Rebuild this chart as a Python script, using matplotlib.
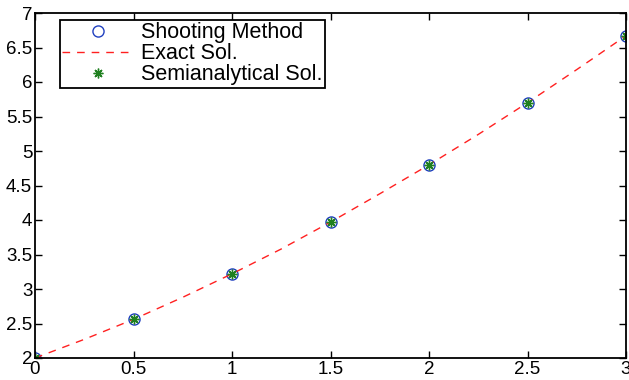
import matplotlib
matplotlib.use("Agg")
import matplotlib.pyplot as plt

x_pts = [0, 0.5, 1.0, 1.5, 2.0, 2.5, 3.0]
shooting = [2.00, 2.56, 3.22, 3.97, 4.80, 5.70, 6.67]
semi = [2.00, 2.56, 3.22, 3.97, 4.80, 5.70, 6.67]
x_exact = [0, 0.25, 0.5, 0.75, 1.0, 1.25, 1.5, 1.75, 2.0, 2.25, 2.5, 2.75, 3.0]
y_exact = [2.00, 2.27, 2.56, 2.88, 3.22, 3.58, 3.97, 4.38, 4.80, 5.24, 5.70, 6.18, 6.67]
xticks = [0, 0.5, 1, 1.5, 2, 2.5, 3]
xticklabels = ["0", "0.5", "1", "1.5", "2", "2.5", "3"]
yticks = [2, 2.5, 3, 3.5, 4, 4.5, 5, 5.5, 6, 6.5, 7]
yticklabels = ["2", "2.5", "3", "3.5", "4", "4.5", "5", "5.5", "6", "6.5", "7"]

plt.rcParams['font.family'] = ['Liberation Sans', 'DejaVu Sans']
fig = plt.figure(figsize=(6.29, 3.8), dpi=100)
ax = fig.add_axes([35/629, 1 - 358/380, (626-35)/629, (358-13)/380])

ax.plot(x_pts, shooting, linestyle='none', marker='o', markersize=8,
        markerfacecolor='none', markeredgecolor='#2040c0', markeredgewidth=1.0,
        label='Shooting Method')
ax.plot(x_exact, y_exact, linestyle=(0, (5.5, 5)), color='#ff2020', linewidth=1.0,
        label='Exact Sol.')
ax.plot(x_pts, semi, linestyle='none', marker=(8, 2, 0), markersize=7,
        color='#208020', markeredgewidth=1.0, label='Semianalytical Sol.')

ax.set_xlim(0, 3)
ax.set_ylim(2, 7)
ax.set_xticks(xticks)
ax.set_xticklabels(xticklabels)
ax.set_yticks(yticks)
ax.set_yticklabels(yticklabels)
ax.tick_params(direction='in', top=True, right=True, labelsize=13.5, length=5,
               width=1.0, pad=2)
for s in ax.spines.values():
    s.set_linewidth(1.3)

leg = ax.legend(loc='upper left', bbox_to_anchor=(0.042, 0.98), fontsize=15.5,
                frameon=True, fancybox=False, edgecolor='black', framealpha=1,
                borderpad=0.12, labelspacing=0.0, handlelength=3.3,
                handletextpad=0.35, borderaxespad=0)
leg.get_frame().set_linewidth(1.3)

fig.savefig("out.png", dpi=100)
